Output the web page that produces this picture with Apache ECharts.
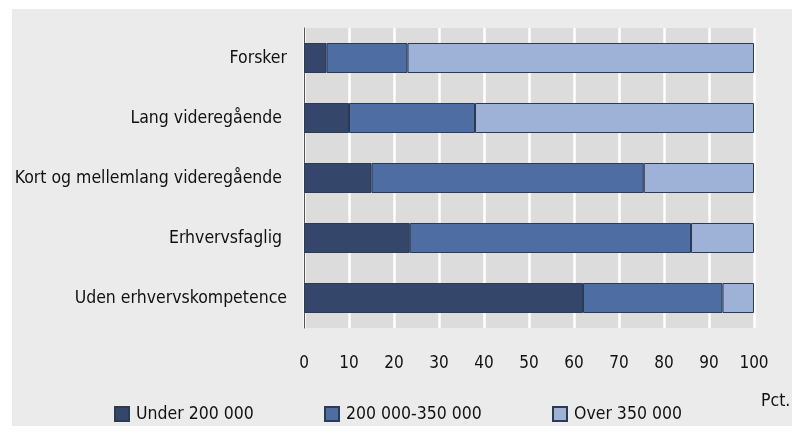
<!DOCTYPE html>
<html>
<head>
<meta charset="utf-8">
<script src="https://cdn.jsdelivr.net/npm/echarts@6/dist/echarts.min.js"></script>
<style>
  html, body { margin: 0; padding: 0; background: #fff; }
  #chart { width: 792px; height: 434px; }
</style>
</head>
<body>
<div id="chart"></div>
<script>
// kategorier (øverst først)
var categories = ['Forsker', 'Lang videregående ', 'Kort og mellemlang videregående ', 'Erhvervsfaglig ', 'Uden erhvervskompetence'];
var under200 = [5, 10, 15, 23.5, 62];
var mid200_350 = [18, 28, 60.5, 62.5, 31];
var over350 = [77, 62, 24.5, 14, 7];
var xTicks = [0, 10, 20, 30, 40, 50, 60, 70, 80, 90, 100];

var font = '"DejaVu Sans Condensed", "Liberation Sans Narrow", sans-serif';
var chart = echarts.init(document.getElementById('chart'));

function barSeries(name, data, color) {
  return {
    name: name,
    type: 'bar',
    stack: 'total',
    data: data,
    barWidth: 30,
    itemStyle: { color: color, borderColor: '#2b3a55', borderWidth: 1 }
  };
}

chart.setOption({
  animation: false,
  backgroundColor: '#fff',
  graphic: [
    { type: 'rect', left: 12, top: 9, shape: { width: 780, height: 417 }, style: { fill: '#ebebeb' }, z: -10 },
    { type: 'text', left: 761, top: 392, style: { text: 'Pct.', font: '17.5px ' + font, fill: '#111' } }
  ],
  grid: {
    left: 304, right: 38, top: 28, height: 300,
    show: true, backgroundColor: '#dcdcdc', borderWidth: 0
  },
  legend: [
    { data: ['Under 200 000'], left: 114, top: 405 },
    { data: ['200 000-350 000'], left: 324, top: 405 },
    { data: ['Over 350 000'], left: 552, top: 405 }
  ].map(function (l) {
    l.itemWidth = 14; l.itemHeight = 14; l.itemGap = 4;
    l.padding = 0;
    l.textStyle = { fontFamily: font, fontSize: 17.5, color: '#111', padding: [0, 0, 0, 2] };
    l.icon = 'rect';
    return l;
  }),
  xAxis: {
    type: 'value',
    min: 0, max: 100, interval: 10,
    axisLine: { show: false },
    axisTick: { show: false },
    axisLabel: {
      margin: 27, fontFamily: font, fontSize: 17, color: '#111',
      formatter: function (v) { return xTicks.indexOf(v) >= 0 ? String(v) : ''; }
    },
    splitLine: { show: true, lineStyle: { color: '#ffffff', width: 2.5 } }
  },
  yAxis: {
    type: 'category',
    inverse: true,
    data: categories,
    axisLine: { show: true, lineStyle: { color: '#555', width: 1 } },
    axisTick: { show: false },
    axisLabel: { margin: 17, fontFamily: font, fontSize: 17.5, color: '#111' }
  },
  series: [
    barSeries('Under 200 000', under200, '#34466a'),
    barSeries('200 000-350 000', mid200_350, '#4e6da3'),
    barSeries('Over 350 000', over350, '#9eb1d6')
  ]
});
</script>
</body>
</html>
